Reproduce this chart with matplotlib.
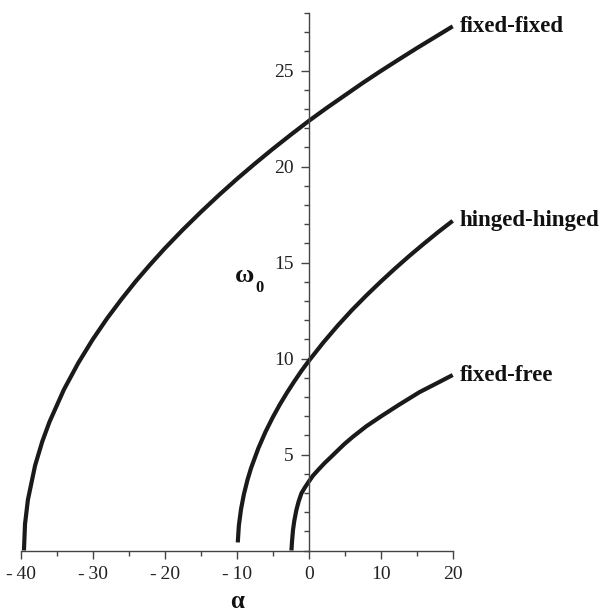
import matplotlib
matplotlib.use("Agg")
import matplotlib.pyplot as plt
from matplotlib.ticker import MultipleLocator, FixedLocator, FixedFormatter

# ---- data ----
ff_alpha = [-39.55, -39.4, -39, -38, -37, -36, -34, -32, -30, -28, -26, -24, -22, -20,
            -17.5, -15, -12.5, -10, -7.5, -5, -2.5, 0, 2.5, 5, 7.5, 10, 12.5, 15, 17.5, 20]
ff_omega = [0.0, 1.38, 2.64, 4.43, 5.68, 6.70, 8.38, 9.77, 10.99, 12.09, 13.09, 14.03, 14.90, 15.73,
            16.70, 17.62, 18.50, 19.34, 20.14, 20.91, 21.65, 22.37, 23.05, 23.70, 24.35, 24.97,
            25.57, 26.16, 26.73, 27.30]

hh_alpha = [-9.85, -9.7, -9.4, -9, -8.5, -8, -7, -6, -5, -4, -3, -2, -1, 0,
            2, 4, 6, 8, 10, 12, 14, 16, 18, 20]
hh_omega = [0.42, 1.30, 2.15, 2.93, 3.68, 4.30, 5.32, 6.18, 6.93, 7.61, 8.23, 8.81, 9.36, 9.87,
            10.82, 11.70, 12.52, 13.28, 14.00, 14.69, 15.35, 15.98, 16.59, 17.17]

fr_alpha = [-2.4, -2.3, -2.18, -2.0, -1.71, -1.4, -1.01, -0.5, 0, 0.6, 1.3, 2.2, 3.15, 4.0,
            4.97, 6.16, 8, 10.1, 12.5, 15.4, 18, 20]
fr_omega = [0.0, 0.55, 1.07, 1.55, 2.11, 2.55, 2.98, 3.30, 3.58, 3.90, 4.19, 4.55, 4.89, 5.20,
            5.55, 5.93, 6.47, 7.00, 7.58, 8.25, 8.75, 9.14]

curve_labels = ["fixed-fixed", "hinged-hinged", "fixed-free"]

x_ticks = [-40, -30, -20, -10, 0, 10, 20]
x_ticklabels = ["-\u200940", "-\u200930", "-\u200920", "-\u200910", "0", "10", "20"]
y_ticks = [5, 10, 15, 20, 25]
y_ticklabels = ["5", "10", "15", "20", "25"]

# ---- figure ----
plt.rcParams["font.family"] = ["Liberation Serif", "DejaVu Serif"]
fig = plt.figure(figsize=(6.01, 6.11), dpi=100)
ax = fig.add_axes([20.7 / 601, (611 - 550.5) / 611, (452.7 - 20.7) / 601, (550.5 - 12.9) / 611])
ax.set_xlim(-40, 20)
ax.set_ylim(0, 28)

line_color = "#1a1a1a"
axis_color = "#444444"
for a, w in [(ff_alpha, ff_omega), (hh_alpha, hh_omega), (fr_alpha, fr_omega)]:
    ax.plot(a, w, color=line_color, lw=3.0, solid_capstyle="butt", clip_on=False)

for a, w, lab in zip([ff_alpha, hh_alpha, fr_alpha], [ff_omega, hh_omega, fr_omega], curve_labels):
    ax.annotate(lab, xy=(a[-1], w[-1]), xytext=(5, 0), textcoords="offset points",
                ha="left", va="center", fontsize=16.5, fontweight="bold", color="#111111")

ax.spines["top"].set_visible(False)
ax.spines["right"].set_visible(False)
ax.spines["left"].set_position(("data", 0))
for s in ("left", "bottom"):
    ax.spines[s].set_color(axis_color)
    ax.spines[s].set_linewidth(1.0)

ax.xaxis.set_major_locator(FixedLocator(x_ticks))
ax.xaxis.set_major_formatter(FixedFormatter(x_ticklabels))
ax.xaxis.set_minor_locator(MultipleLocator(5))
ax.yaxis.set_major_locator(FixedLocator(y_ticks))
ax.yaxis.set_major_formatter(FixedFormatter(y_ticklabels))
ax.yaxis.set_minor_locator(MultipleLocator(1))

ax.tick_params(axis="both", which="major", direction="out", length=6.0, width=1.0,
               color=axis_color, labelsize=14, labelcolor="#222222")
ax.tick_params(axis="both", which="minor", direction="out", length=3.7, width=1.0, color=axis_color)
ax.tick_params(axis="x", which="major", pad=5.5)
ax.tick_params(axis="y", which="major", pad=5.0)

# axis labels
fig.text(237.5 / 601, 1 - 601 / 611, "\u03b1", fontsize=18, fontweight="bold",
         ha="center", va="center", color="#111111")
fig.text(245 / 601, 1 - 276 / 611, "\u03c9", fontsize=19, fontweight="bold",
         ha="center", va="center", color="#111111")
fig.text(259.5 / 601, 1 - 288 / 611, "0", fontsize=12, fontweight="bold",
         ha="center", va="center", color="#111111")

fig.savefig("out.png", dpi=100)
